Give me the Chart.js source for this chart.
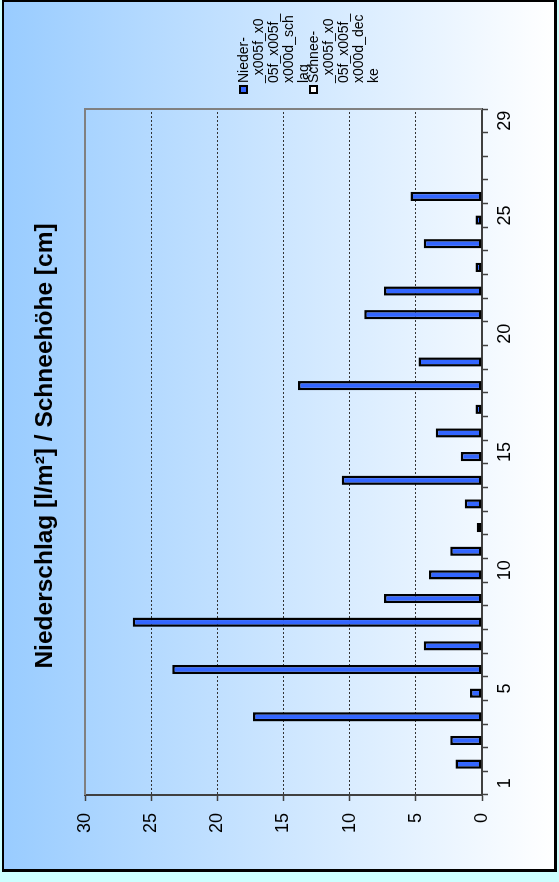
<!DOCTYPE html>
<html>
<head>
<meta charset="utf-8">
<script src="https://cdn.jsdelivr.net/npm/chart.js@4.4.0/dist/chart.umd.min.js"></script>
<style>
html, body { margin: 0; padding: 0; width: 559px; height: 882px; overflow: hidden; background: #ccffff; }
/* the chart is built lying on its side and turned 90deg to the left */
#wrap { position: absolute; left: 0; top: 882px; width: 882px; height: 559px; transform-origin: 0 0; transform: rotate(-90deg); }
#frame { position: absolute; left: 10px; top: 2px; width: 872px; height: 555px; box-sizing: border-box; border: 2px solid #000; border-left-width: 3px; border-bottom-width: 3px; background: linear-gradient(to bottom, #99ccff, #ffffff); }
#grafico { position: absolute; left: 0; top: 0; }
</style>
</head>
<body>
<div id="wrap">
  <div id="frame"></div>
  <canvas id="grafico" width="882" height="559"></canvas>
</div>
<script>
var titulo = 'Niederschlag [l/m²] / Schneehöhe [cm]';
var tage = [1, 2, 3, 4, 5, 6, 7, 8, 9, 10, 11, 12, 13, 14, 15, 16, 17, 18, 19, 20, 21, 22, 23, 24, 25, 26, 27, 28, 29];
var niederschlag = [0, 2.0, 2.4, 17.3, 0.9, 23.4, 4.4, 26.4, 7.4, 4.0, 2.4, 0.4, 1.3, 10.6, 1.6, 3.5, 0.5, 13.9, 4.8, 0, 8.9, 7.4, 0.5, 4.4, 0.5, 5.4, null, null, null];
var schneehoehe = [0, 0, 0, 0, 0, 0, 0, 0, 0, 0, 0, 0, 0, 0, 0, 0, 0, 0, 0, 0, 0, 0, 0, 0, 0, 0, null, null, null];
var tageBeschriftet = [1, 5, 10, 15, 20, 25, 29];
var legendeNieder = ['Nieder-', '_x005f_x0', '05f_x005f_', 'x000d_sch', 'lag'];
var legendeSchnee = ['Schnee-', '_x005f_x0', '05f_x005f_', 'x000d_dec', 'ke'];
var legendeZeilen = [legendeNieder, legendeSchnee];

var fonte = '"Liberation Sans", Arial, sans-serif';
Chart.defaults.font.family = fonte;
Chart.defaults.color = '#000';

// title, legend and the grey frame of the plot area
var extras = {
    id: 'extras',
    beforeDatasetsDraw: function (chart) {
        var a = chart.chartArea;
        var ctx = chart.ctx;
        ctx.save();
        ctx.strokeStyle = '#808080';
        ctx.lineWidth = 2;
        ctx.beginPath();
        ctx.moveTo(a.left, a.top);
        ctx.lineTo(a.right, a.top);
        ctx.lineTo(a.right, a.bottom);
        ctx.stroke();
        ctx.restore();
    },
    afterDraw: function (chart) {
        var ctx = chart.ctx;
        ctx.save();
        ctx.fillStyle = '#000';
        ctx.font = 'bold 24.5px ' + fonte;
        ctx.textAlign = 'center';
        ctx.textBaseline = 'alphabetic';
        ctx.fillText(titulo, 436, 52);

        ctx.font = '14px ' + fonte;
        ctx.textAlign = 'left';
        chart.data.datasets.forEach(function (ds, i) {
            var y0 = 248 + i * 70;
            ctx.fillStyle = ds.backgroundColor;
            ctx.fillRect(789, y0 - 8, 7, 7);
            ctx.strokeStyle = '#000';
            ctx.lineWidth = 2;
            ctx.strokeRect(789, y0 - 8, 7, 7);
            ctx.fillStyle = '#000';
            legendeZeilen[i].forEach(function (t, k) {
                ctx.fillText(t, 799, y0 + k * 15);
            });
        });
        ctx.restore();
    }
};

new Chart(document.getElementById('grafico'), {
    type: 'bar',
    data: {
        labels: tage,
        datasets: [{
            label: legendeNieder.join(''),
            data: niederschlag,
            backgroundColor: '#3366ff',
            borderColor: '#000',
            borderWidth: 2.5,
            borderSkipped: false,
            categoryPercentage: 0.78,
            barPercentage: 1
        }, {
            label: legendeSchnee.join(''),
            data: schneehoehe,
            backgroundColor: '#ffffff',
            borderColor: '#000',
            borderWidth: 2.5,
            borderSkipped: false,
            categoryPercentage: 0.78,
            barPercentage: 1
        }]
    },
    options: {
        responsive: false,
        animation: false,
        layout: { padding: { top: 85, right: 109, left: 0, bottom: 0 } },
        plugins: {
            legend: { display: false },
            title: { display: false },
            tooltip: { enabled: false }
        },
        scales: {
            x: {
                grid: { display: true, drawOnChartArea: false, offset: true, tickLength: 6, tickColor: '#404040', tickWidth: 1.5 },
                border: { color: '#404040', width: 2 },
                ticks: {
                    autoSkip: false, maxRotation: 0, padding: 6, font: { size: 18 },
                    callback: function (v, i) {
                        return tageBeschriftet.indexOf(tage[i]) >= 0 ? String(tage[i]) : '';
                    }
                },
                afterFit: function (s) { s.height = 77; }
            },
            y: {
                min: 0,
                max: 30,
                ticks: { stepSize: 5, padding: 12, font: { size: 18 } },
                grid: {
                    color: function (c) {
                        return (c.tick && (c.tick.value === 0 || c.tick.value === 30)) ? 'rgba(0,0,0,0)' : '#333';
                    },
                    lineWidth: 1, tickLength: 6, tickColor: '#404040', tickWidth: 1.5
                },
                border: { color: '#404040', width: 2, dash: [2, 2] },
                afterFit: function (s) { s.width = 87; }
            }
        }
    },
    plugins: [extras]
});
</script>
</body>
</html>
